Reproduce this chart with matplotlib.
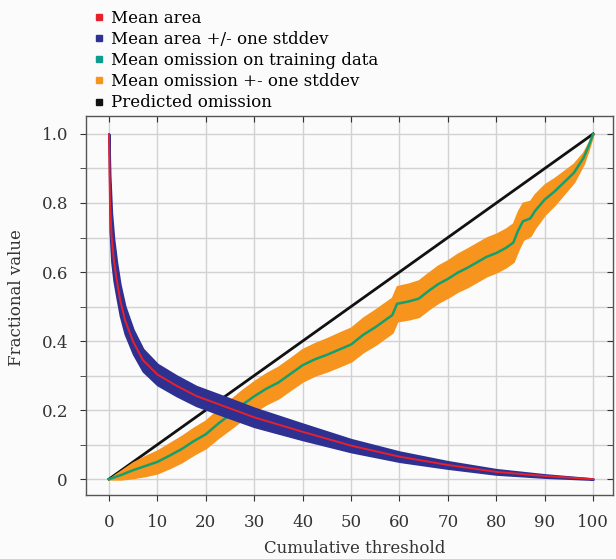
import matplotlib
matplotlib.use("Agg")
import matplotlib.pyplot as plt
from matplotlib.lines import Line2D
import numpy as np

# ---- data ----
x_area = [0, 0.2, 0.55, 1, 1.6, 2.3, 3.3, 5, 7, 10, 14, 18, 24, 30, 40, 50, 60, 70, 80, 90, 100]
area_mean = [1.0, 0.80, 0.70, 0.635, 0.577, 0.519, 0.461, 0.398, 0.345, 0.303, 0.270, 0.241,
             0.210, 0.179, 0.137, 0.097, 0.065, 0.041, 0.021, 0.009, 0.0]
area_std = [0.0, 0.08, 0.07, 0.06, 0.05, 0.045, 0.04, 0.035, 0.032, 0.03, 0.029, 0.028,
            0.028, 0.027, 0.023, 0.018, 0.014, 0.010, 0.007, 0.004, 0.001]

x_om = [0, 2.5, 5, 7.5, 10, 12.5, 15, 17.5, 20, 22.5, 25, 27.5, 30, 32.5, 35, 37.5, 40,
        42.5, 45, 47.5, 50, 52.5, 55, 57.5, 58.5, 59.5, 62, 64, 66, 68, 70, 72, 74, 76,
        78, 80, 82, 83.5, 84.5, 85.5, 87, 88, 90, 92, 94, 96, 98, 99, 100]
om_mean = [0.0, 0.012, 0.026, 0.038, 0.05, 0.068, 0.087, 0.11, 0.13, 0.16, 0.187, 0.215,
           0.24, 0.262, 0.28, 0.305, 0.33, 0.347, 0.36, 0.375, 0.39, 0.418, 0.44, 0.465,
           0.475, 0.508, 0.515, 0.523, 0.545, 0.565, 0.58, 0.598, 0.612, 0.628, 0.644,
           0.655, 0.67, 0.685, 0.72, 0.747, 0.755, 0.777, 0.81, 0.833, 0.86, 0.887, 0.93,
           0.963, 1.0]
om_std = [0.0, 0.012, 0.022, 0.028, 0.032, 0.035, 0.037, 0.038, 0.039, 0.04, 0.041, 0.042,
          0.043, 0.044, 0.045, 0.045, 0.046, 0.046, 0.047, 0.048, 0.048, 0.049, 0.05, 0.05,
          0.05, 0.05, 0.051, 0.052, 0.052, 0.053, 0.053, 0.054, 0.055, 0.055, 0.055, 0.055,
          0.055, 0.055, 0.055, 0.053, 0.05, 0.048, 0.043, 0.038, 0.032, 0.026, 0.016, 0.009, 0.0]

x_pred = [0, 100]
pred_om = [0.0, 1.0]

legend_labels = ["Mean area", "Mean area +/- one stddev", "Mean omission on training data",
                 "Mean omission +- one stddev", "Predicted omission"]
xticks = [0, 10, 20, 30, 40, 50, 60, 70, 80, 90, 100]
yticks = [0, 0.2, 0.4, 0.6, 0.8, 1.0]
ytick_labels = ["0", "0.2", "0.4", "0.6", "0.8", "1.0"]

# ---- style ----
plt.rcParams['font.family'] = ['DejaVu Serif']
c_red = '#e8202a'
c_blue = '#2e3192'
c_green = '#13a06e'
c_orange = '#f7941d'
c_black = '#111111'
bg = '#fbfbfb'

fig = plt.figure(figsize=(6.16, 5.59), dpi=100, facecolor=bg)
ax = fig.add_axes([86/616, 1-495/559, (613-86)/616, (495-116)/559], facecolor=bg)

xa = np.array(x_area); am = np.array(area_mean); asd = np.array(area_std)
xo = np.array(x_om); om = np.array(om_mean); osd = np.array(om_std)

ax.plot(x_pred, pred_om, color=c_black, lw=2, zorder=2)
ax.fill_between(xo, om - osd, om + osd, facecolor=c_orange, edgecolor=c_orange, lw=1.5, zorder=3)
ax.plot(xo, om, color=c_green, lw=1.8, zorder=4)
ax.fill_between(xa, am - asd, am + asd, facecolor=c_blue, edgecolor=c_blue, lw=1.5, zorder=5)
ax.plot(xa, am, color=c_red, lw=1.4, zorder=6)

ax.set_xlim(-4.75, 104.1)
ax.set_ylim(-0.046, 1.052)
ax.set_xticks(xticks)
ax.set_xticklabels([str(t) for t in xticks])
ax.set_yticks(yticks)
ax.set_yticklabels(ytick_labels)
ax.set_yticks(np.arange(0.1, 1.0, 0.2), minor=True)
ax.grid(True, which='both', color='#d2d2d2', lw=1, zorder=0)
ax.set_axisbelow(True)

for s in ax.spines.values():
    s.set_color('#555555')
    s.set_linewidth(1)

ax.tick_params(axis='x', which='both', direction='out', length=4, color='#333333',
               labelsize=12, pad=10, labelcolor='#333333', top=True)
ax.tick_params(axis='y', which='both', direction='out', length=4, color='#333333',
               labelsize=12, pad=9, labelcolor='#333333', right=True)
for t in ax.xaxis.get_major_ticks():
    t.tick2line.set_marker(3)  # TICKDOWN (inward at top)
for t in ax.yaxis.get_major_ticks() + ax.yaxis.get_minor_ticks():
    t.tick2line.set_marker(0)  # TICKLEFT (inward at right)

ax.set_xlabel("Cumulative threshold", fontsize=12, color='#333333')
ax.set_ylabel("Fractional value", fontsize=12, color='#333333')
ax.xaxis.set_label_coords(0.51, -0.12)
ax.yaxis.set_label_coords(-0.115, 0.52)

handles = [Line2D([], [], ls='none', marker='s', markersize=5, color=c)
           for c in [c_red, c_blue, '#109b8f', c_orange, c_black]]
fig.legend(handles, legend_labels, loc='upper left', bbox_to_anchor=(82/616, 1+2/559),
           frameon=False, fontsize=12, handlelength=0.6, handletextpad=0.45,
           labelspacing=0.25, borderpad=0.2)

fig.savefig("out.png", dpi=100, facecolor=bg)
